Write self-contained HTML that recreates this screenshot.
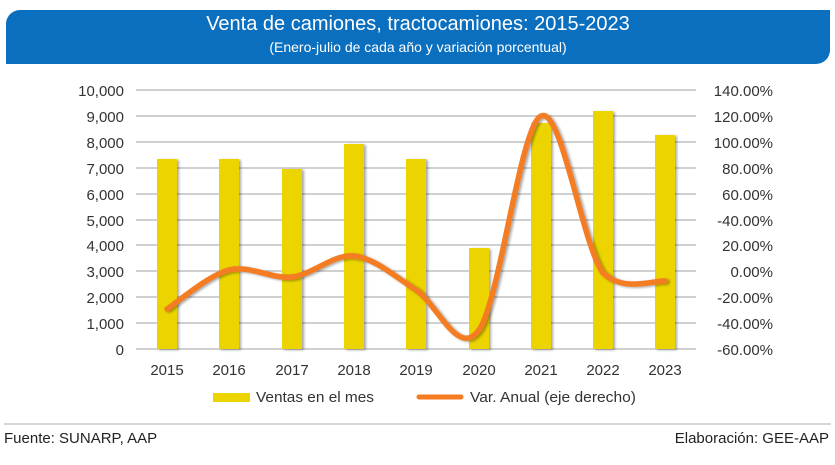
<!DOCTYPE html>
<html><head><meta charset="utf-8"><style>
html,body{margin:0;padding:0;background:#fff;}
body{width:835px;height:465px;position:relative;overflow:hidden;font-family:"Liberation Sans",sans-serif;}
.hdr{position:absolute;left:6px;top:10px;width:824px;height:54px;background:#0a6fbe;border-radius:14px 0 14px 0;color:#fff;text-align:center;}
.t1{font-size:20px;margin-top:3px;}
.t2{font-size:14px;margin-top:3px;}
.foot{position:absolute;top:430px;font-size:15px;color:#222;}
</style></head><body>
<div class="hdr"><div class="t1">Venta de camiones, tractocamiones: 2015-2023</div><div class="t2">(Enero-julio de cada año y variación porcentual)</div></div>
<svg width="835" height="465" style="position:absolute;left:0;top:0">
<defs><filter id="sh" x="-20%" y="-5%" width="150%" height="110%"><feDropShadow dx="2" dy="1" stdDeviation="1.2" flood-color="#000" flood-opacity="0.35"/></filter></defs>
<g stroke="#b5b5b5" stroke-width="1.3">
<line x1="136" x2="696" y1="90" y2="90"/><line x1="136" x2="696" y1="116" y2="116"/><line x1="136" x2="696" y1="142" y2="142"/><line x1="136" x2="696" y1="168" y2="168"/><line x1="136" x2="696" y1="194" y2="194"/><line x1="136" x2="696" y1="220" y2="220"/><line x1="136" x2="696" y1="245" y2="245"/><line x1="136" x2="696" y1="271" y2="271"/><line x1="136" x2="696" y1="297" y2="297"/><line x1="136" x2="696" y1="323" y2="323"/><line x1="136" x2="696" y1="349" y2="349"/>
</g>
<g fill="#ecd400" filter="url(#sh)">
<rect x="157" y="159" width="20" height="190"/><rect x="219" y="159" width="20" height="190"/><rect x="282" y="169" width="20" height="180"/><rect x="344" y="144" width="20" height="205"/><rect x="406" y="159" width="20" height="190"/><rect x="469" y="248" width="20" height="101"/><rect x="531" y="123" width="20" height="226"/><rect x="593" y="111" width="20" height="238"/><rect x="655" y="135" width="20" height="214"/>
</g>
<path d="M167,309 C177.3,302.5 208.2,275.3 229,270 C249.8,264.7 271.2,279.3 292,277 C312.8,274.7 333.3,253.8 354,256 C374.7,258.2 395.2,276.8 416,290 C436.8,303.2 458.2,359 479,330 C499.8,301 520.3,125.5 541,116 C561.7,106.5 582.3,245.3 603,273 C623.7,292 650,281 665,281" fill="none" stroke="#f47b20" stroke-width="5.5" stroke-linecap="round" filter="url(#sh)"/>
<g font-size="15" fill="#333" text-anchor="end">
<text x="124" y="96">10,000</text><text x="124" y="122">9,000</text><text x="124" y="148">8,000</text><text x="124" y="174">7,000</text><text x="124" y="200">6,000</text><text x="124" y="226">5,000</text><text x="124" y="251">4,000</text><text x="124" y="277">3,000</text><text x="124" y="303">2,000</text><text x="124" y="329">1,000</text><text x="124" y="355">0</text>
<text x="773" y="96">140.00%</text><text x="773" y="122">120.00%</text><text x="773" y="148">100.00%</text><text x="773" y="174">80.00%</text><text x="773" y="200">60.00%</text><text x="773" y="226">-40.00%</text><text x="773" y="251">20.00%</text><text x="773" y="277">0.00%</text><text x="773" y="303">-20.00%</text><text x="773" y="329">-40.00%</text><text x="773" y="355">-60.00%</text>
</g>
<g font-size="15" fill="#333" text-anchor="middle">
<text x="167" y="375">2015</text><text x="229" y="375">2016</text><text x="292" y="375">2017</text><text x="354" y="375">2018</text><text x="416" y="375">2019</text><text x="479" y="375">2020</text><text x="541" y="375">2021</text><text x="603" y="375">2022</text><text x="665" y="375">2023</text>
</g>
<rect x="213" y="393" width="37" height="9" fill="#ecd400"/>
<line x1="419" x2="461" y1="397" y2="397" stroke="#f47b20" stroke-width="5" stroke-linecap="round"/>
<g font-size="15" fill="#333">
<text x="256" y="402" textLength="118" lengthAdjust="spacingAndGlyphs">Ventas en el mes</text><text x="470" y="402" textLength="166" lengthAdjust="spacingAndGlyphs">Var. Anual (eje derecho)</text>
</g>
<line x1="4" x2="831" y1="424" y2="424" stroke="#c8c8c8" stroke-width="1.5"/>
</svg>
<div class="foot" style="left:4px">Fuente: SUNARP, AAP</div>
<div class="foot" style="right:6px">Elaboración: GEE-AAP</div>
</body></html>
